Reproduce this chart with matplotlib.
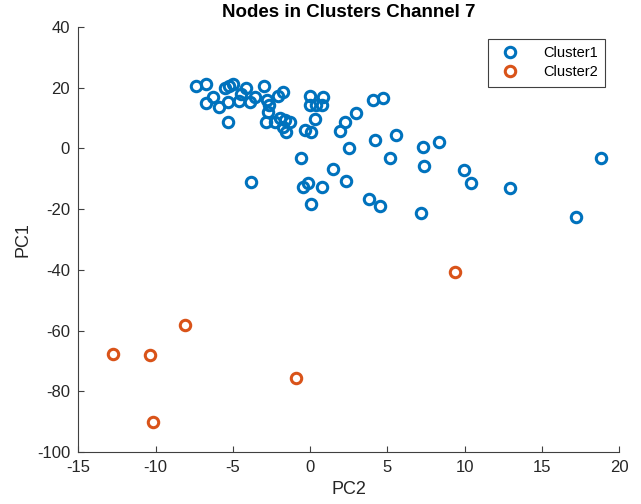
import numpy as np
import matplotlib.pyplot as plt

plt.rcParams['font.family'] = ['Liberation Sans', 'DejaVu Sans']
plt.rcParams['axes.unicode_minus'] = False

# Cluster 1 (PC2, PC1)
c1_pc2 = [-7.41, -6.75, -6.27, -6.77, -5.89, -5.30, -5.52, -5.24, -5.02, -5.30,
          -4.50, -4.16, -4.59, -3.90, -3.58, -2.98, -2.78, -2.65, -2.72, -2.87,
          -2.28, -2.07, -1.75, -1.96, -1.64, -1.31, -1.75, -1.53, -0.02, 0.84,
          -0.02, 0.41, 0.74, 0.30, -0.34, 0.09, 2.24, 1.92, 3.00, 2.52,
          -0.56, 1.49, 2.35, -3.85, -0.45, -0.13, 0.80, 0.03, 4.08, 4.72,
          4.18, 5.59, 7.31, 8.33, 5.16, 7.35, 9.96, 18.85, 10.44, 12.96,
          3.80, 4.55, 7.21, 17.23]
c1_pc1 = [20.6, 21.1, 16.8, 14.9, 13.7, 15.2, 19.8, 20.6, 21.1, 8.8,
          17.8, 19.8, 15.7, 15.2, 17.0, 20.5, 15.9, 14.3, 12.1, 8.6,
          8.8, 17.3, 18.7, 9.9, 9.35, 8.8, 7.1, 5.5, 17.3, 16.8,
          14.3, 14.3, 14.3, 9.6, 6.1, 5.5, 8.8, 5.7, 11.6, 0.2,
          -3.1, -6.8, -10.7, -11.2, -12.6, -11.5, -12.6, -18.4, 15.9, 16.5,
          2.8, 4.4, 0.6, 2.0, -3.3, -5.8, -7.1, -3.1, -11.5, -13.1,
          -16.6, -19.0, -21.3, -22.5]

# Cluster 2
c2_pc2 = [-12.74, -10.37, -8.08, -10.2, -0.94, 9.4]
c2_pc1 = [-67.8, -67.9, -58.2, -90.1, -75.5, -40.6]

fig = plt.figure(figsize=(6.41, 5.04), dpi=100)
ax = fig.add_axes([0.1223, 0.1032, 0.8434, 0.8432])

ax.plot(c1_pc2, c1_pc1, 'o', mfc='none', mec='#0072BD', ms=7.5, mew=2.2, label='Cluster1')
ax.plot(c2_pc2, c2_pc1, 'o', mfc='none', mec='#D95319', ms=7.5, mew=2.2, label='Cluster2')

ax.set_xlim(-15, 20)
ax.set_ylim(-100, 40)
ax.set_xticks(np.arange(-15, 21, 5))
ax.set_yticks(np.arange(-100, 41, 20))
ax.spines['top'].set_visible(False)
ax.spines['right'].set_visible(False)
for s in ['left', 'bottom']:
    ax.spines[s].set_color('#404040')
    ax.spines[s].set_linewidth(0.8)
ax.tick_params(direction='in', length=4, width=0.8, colors='#404040',
               labelcolor='#262626', labelsize=12, pad=6)

ax.set_title('Nodes in Clusters Channel 7', fontsize=13.5, fontweight='bold', pad=7)
ax.set_xlabel('PC2', fontsize=13, color='#262626', labelpad=4)
ax.set_ylabel('PC1', fontsize=13, color='#262626', labelpad=4)

leg = ax.legend(loc='upper right', bbox_to_anchor=(0.975, 0.972), borderaxespad=0,
                fontsize=10.5, fancybox=False, framealpha=1, edgecolor='#404040',
                handletextpad=1.3, borderpad=0.5, labelspacing=0.35)
leg.get_frame().set_linewidth(0.8)

fig.savefig('out.png', dpi=100)
